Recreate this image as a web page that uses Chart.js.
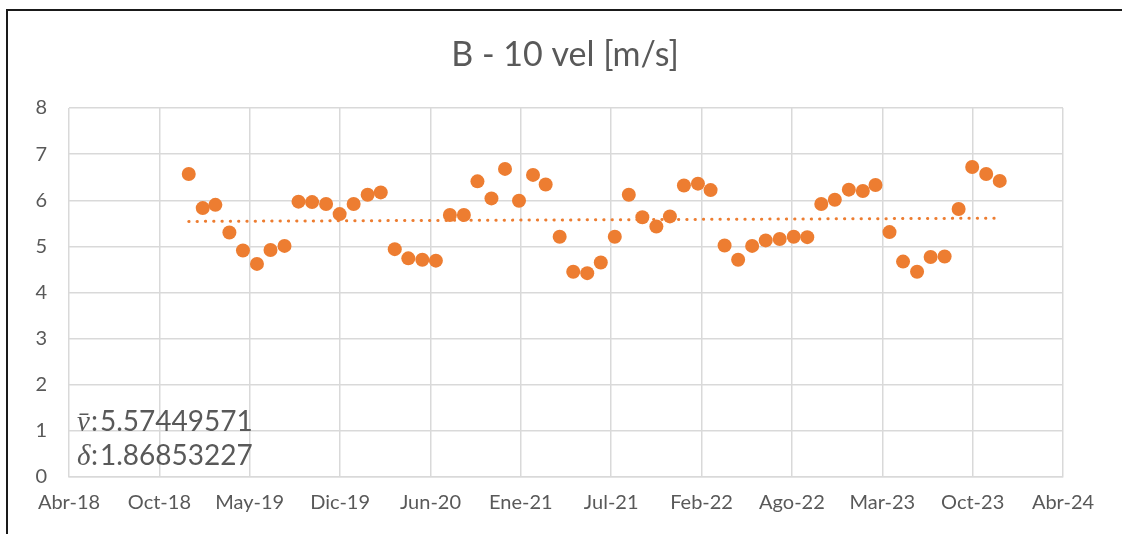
<!DOCTYPE html>
<html>
<head>
<meta charset="utf-8">
<script src="https://cdn.jsdelivr.net/npm/chart.js@4"></script>
<style>
  html, body { margin: 0; padding: 0; background: #fff; }
  canvas { display: block; }
</style>
</head>
<body>
<canvas id="velChart" width="1122" height="534"></canvas>
<script>
// monthly readings, Jan 2019 - Dec 2023
const months = [
    '2019-01', '2019-02', '2019-03', '2019-04', '2019-05', '2019-06', '2019-07', '2019-08', '2019-09', '2019-10', '2019-11', '2019-12',
    '2020-01', '2020-02', '2020-03', '2020-04', '2020-05', '2020-06', '2020-07', '2020-08', '2020-09', '2020-10', '2020-11', '2020-12',
    '2021-01', '2021-02', '2021-03', '2021-04', '2021-05', '2021-06', '2021-07', '2021-08', '2021-09', '2021-10', '2021-11', '2021-12',
    '2022-01', '2022-02', '2022-03', '2022-04', '2022-05', '2022-06', '2022-07', '2022-08', '2022-09', '2022-10', '2022-11', '2022-12',
    '2023-01', '2023-02', '2023-03', '2023-04', '2023-05', '2023-06', '2023-07', '2023-08', '2023-09', '2023-10', '2023-11', '2023-12'
];
const velocity = [
    6.57, 5.83, 5.90, 5.30, 4.91, 4.62, 4.92, 5.01, 5.97, 5.96, 5.92, 5.70,
    5.92, 6.12, 6.17, 4.94, 4.74, 4.71, 4.69, 5.68, 5.68, 6.41, 6.04, 6.68,
    5.99, 6.55, 6.34, 5.21, 4.45, 4.42, 4.65, 5.21, 6.12, 5.63, 5.43, 5.65,
    6.32, 6.36, 6.22, 5.02, 4.71, 5.01, 5.13, 5.16, 5.21, 5.20, 5.92, 6.01,
    6.23, 6.20, 6.33, 5.31, 4.67, 4.45, 4.77, 4.78, 5.81, 6.72, 6.57, 6.42
];
const xTickLabels = ['Abr-18', 'Oct-18', 'May-19', 'Dic-19', 'Jun-20', 'Ene-21', 'Jul-21', 'Feb-22', 'Ago-22', 'Mar-23', 'Oct-23', 'Abr-24'];
const xStart = '2018-04-11';
const xStepDays = 200;
const chartTitle = 'B - 10 vel [m/s]';
const statLines = [
    ['v\u0304', '5.57449571'],
    ['\u03B4', '1.86853227']
];

const DAY = 86400000;
function toDay(s) {
    const p = s.split('-').map(Number);
    return Date.UTC(p[0], p[1] - 1, p[2] || 1) / DAY;
}

const xMin = toDay(xStart);
const xMax = xMin + xStepDays * (xTickLabels.length - 1);
const points = months.map((m, i) => ({ x: toDay(m), y: velocity[i] }));

// linear trend line (least squares), like the spreadsheet trendline
const n = points.length;
const mx = points.reduce((a, p) => a + p.x, 0) / n;
const my = points.reduce((a, p) => a + p.y, 0) / n;
let sxy = 0, sxx = 0;
points.forEach(p => { sxy += (p.x - mx) * (p.y - my); sxx += (p.x - mx) * (p.x - mx); });
const slope = sxy / sxx;
const trend = [points[0].x, points[n - 1].x].map(x => ({ x: x, y: my + slope * (x - mx) }));

const textColor = '#595959';
const gridColor = '#D9D9D9';
const orange = '#ED7D31';

const frameAndText = {
    id: 'frameAndText',
    beforeDraw(chart) {
        const ctx = chart.ctx;
        ctx.save();
        ctx.fillStyle = '#fff';
        ctx.fillRect(0, 0, chart.width, chart.height);
        ctx.fillStyle = '#1a1a1a';
        ctx.fillRect(6, 9, chart.width, 2);
        ctx.fillRect(6, 9, 2, chart.height);
        ctx.restore();
    },
    afterDraw(chart) {
        const ctx = chart.ctx;
        ctx.save();
        ctx.fillStyle = textColor;
        ctx.textBaseline = 'alphabetic';
        ctx.textAlign = 'center';
        ctx.font = '34px Lato';
        ctx.fillText(chartTitle, 565, 66);
        ctx.textAlign = 'left';
        statLines.forEach((line, i) => {
            const y = 431 + i * 34;
            ctx.font = 'italic 29px "Liberation Serif"';
            ctx.fillText(line[0], 77, y);
            ctx.font = '28px Lato';
            ctx.fillText(':', 91, y);
            ctx.fillText(line[1], 100, y);
        });
        ctx.restore();
    }
};

new Chart(document.getElementById('velChart'), {
    type: 'scatter',
    data: {
        datasets: [{
            label: 'vel',
            data: points,
            backgroundColor: orange,
            borderWidth: 0,
            pointRadius: 7,
            pointHoverRadius: 7,
            order: 0
        }, {
            type: 'line',
            label: 'trend',
            data: trend,
            borderColor: orange,
            borderWidth: 3,
            borderDash: [0.3, 8],
            borderCapStyle: 'round',
            pointRadius: 0,
            fill: false,
            order: 1
        }]
    },
    options: {
        responsive: false,
        animation: false,
        layout: { padding: { left: 0, right: 59, top: 108, bottom: 0 } },
        plugins: {
            legend: { display: false },
            tooltip: { enabled: false },
            title: { display: false }
        },
        scales: {
            x: {
                type: 'linear',
                min: xMin,
                max: xMax,
                afterBuildTicks: scale => {
                    scale.ticks = xTickLabels.map((_, i) => ({ value: xMin + i * xStepDays }));
                },
                afterFit: scale => { scale.height = 57; },
                grid: { color: gridColor, lineWidth: 1.5, drawTicks: false },
                border: { color: gridColor, width: 1.5 },
                ticks: {
                    color: textColor,
                    font: { family: 'Lato', size: 20 },
                    padding: 14,
                    maxRotation: 0,
                    autoSkip: false,
                    callback: (v, i) => xTickLabels[i]
                }
            },
            y: {
                min: 0,
                max: 8,
                afterFit: scale => { scale.width = 69; },
                grid: { color: gridColor, lineWidth: 1.5, drawTicks: false },
                border: { display: false },
                ticks: {
                    stepSize: 1,
                    color: textColor,
                    font: { family: 'Lato', size: 20 },
                    padding: 22
                }
            }
        }
    },
    plugins: [frameAndText]
});
</script>
</body>
</html>
